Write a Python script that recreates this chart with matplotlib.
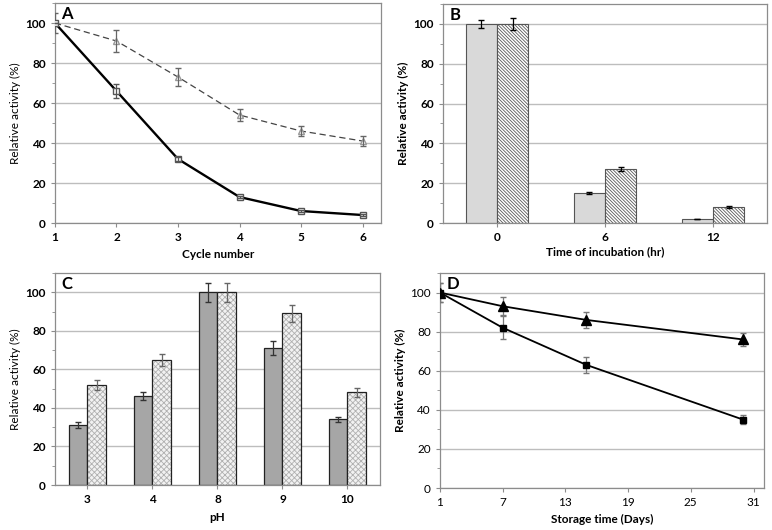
import numpy as np
import matplotlib
matplotlib.use("Agg")
import matplotlib.pyplot as plt
from matplotlib.ticker import MultipleLocator

plt.rcParams["font.family"] = ["Lato", "DejaVu Sans"]
plt.rcParams["hatch.linewidth"] = 0.6

# Panel A: reuse cycles
cycles = [1, 2, 3, 4, 5, 6]
a_solid = [100, 66, 32, 13, 6, 4]
a_solid_err = [0, 3.5, 1, 0.5, 0.5, 0.5]
a_dashed = [100, 91, 73, 54, 46, 41]
a_dashed_err = [5, 5.5, 4.5, 3, 2.5, 2.5]

# Panel B: incubation time
b_labels = ["0", "6", "12"]
b_plain = [100, 15, 2]
b_plain_err = [2, 0.5, 0]
b_hatched = [100, 27, 8]
b_hatched_err = [3, 1, 0.5]

# Panel C: pH
c_labels = ["3", "4", "8", "9", "10"]
c_plain = [31, 46, 100, 71, 34]
c_plain_err = [1.5, 2, 5, 3.5, 1.5]
c_hatched = [52, 65, 100, 89, 48]
c_hatched_err = [2.5, 3, 5, 4.5, 2.5]

# Panel D: storage
days = [1, 7, 15, 30]
d_tri = [100, 93, 86, 76]
d_tri_err = [5, 4.5, 4, 3.5]
d_sq = [100, 82, 63, 35]
d_sq_err = [5, 6, 4, 2.5]

GRID = "#bdbdbd"
SPINE = "#8c8c8c"
FS = 8.5

fig = plt.figure(figsize=(7.72, 5.3), dpi=100)
axA = fig.add_axes([0.0712, 0.5792, 0.4223, 0.4151])
axB = fig.add_axes([0.5738, 0.5792, 0.4197, 0.4132])
axC = fig.add_axes([0.0712, 0.0849, 0.4210, 0.4000])
axD = fig.add_axes([0.5699, 0.0792, 0.4197, 0.4057])


def style(ax, letter, bold_ticks=True):
    ax.set_ylim(0, 110)
    ax.yaxis.set_major_locator(MultipleLocator(20))
    ax.yaxis.set_minor_locator(MultipleLocator(10))
    ax.set_yticks([0, 20, 40, 60, 80, 100])
    ax.grid(axis="y", color=GRID, linewidth=1.0)
    ax.set_axisbelow(True)
    for s in ax.spines.values():
        s.set_color(SPINE)
        s.set_linewidth(0.9)
    ax.tick_params(axis="both", which="both", color=SPINE, length=3,
                   labelsize=FS)
    ax.tick_params(axis="y", which="minor", length=2)
    if bold_ticks:
        for lab in ax.get_xticklabels() + ax.get_yticklabels():
            lab.set_fontweight("bold")
    ax.text(0.02, 0.985, letter, transform=ax.transAxes, fontsize=12,
            fontweight="bold", va="top", ha="left")


# A
axA.plot(cycles, a_dashed, color="#444444", linestyle=(0, (5, 3)),
         linewidth=0.9, marker="^", markersize=4, markerfacecolor="white",
         markeredgecolor="#999999", zorder=3)
axA.errorbar(cycles, a_dashed, yerr=a_dashed_err, fmt="none",
             ecolor="#666666", elinewidth=0.9, capsize=2.5, zorder=3)
axA.plot(cycles, a_solid, color="black", linewidth=1.7, marker="s",
         markersize=4.5, markerfacecolor="white", markeredgecolor="#555555",
         zorder=4)
axA.errorbar(cycles, a_solid, yerr=a_solid_err, fmt="none",
             ecolor="#555555", elinewidth=0.9, capsize=2.5, zorder=4)
axA.set_xlim(1, 6.3)
axA.set_xticks(cycles)
axA.set_xlabel("Cycle number", fontsize=FS, fontweight="bold", labelpad=4)
axA.set_ylabel("Relative activity (%)", fontsize=FS, labelpad=3)
style(axA, "A")

# B
xb = np.arange(len(b_labels))
w = 0.29
axB.bar(xb - w / 2, b_plain, w, color="#d9d9d9", edgecolor="#555555",
        linewidth=0.8, zorder=2)
axB.bar(xb + w / 2, b_hatched, w, color="white", edgecolor="#5a5a5a",
        hatch="\\" * 10, linewidth=0, zorder=2)
axB.bar(xb + w / 2, b_hatched, w, color="none", edgecolor="#555555",
        linewidth=0.8, zorder=2)
axB.errorbar(xb - w / 2, b_plain, yerr=b_plain_err, fmt="none",
             ecolor="black", elinewidth=0.9, capsize=2.5, zorder=3)
axB.errorbar(xb + w / 2, b_hatched, yerr=b_hatched_err, fmt="none",
             ecolor="black", elinewidth=0.9, capsize=2.5, zorder=3)
axB.set_xlim(-0.5, len(b_labels) - 0.5)
axB.set_xticks(xb)
axB.set_xticklabels(b_labels)
axB.tick_params(axis="x", length=0)
axB.set_xlabel("Time of incubation (hr)", fontsize=FS, fontweight="bold",
               labelpad=2)
axB.set_ylabel("Relative activity (%)", fontsize=FS, fontweight="bold",
               labelpad=3)
style(axB, "B")

# C
xc = np.arange(len(c_labels))
w = 0.28
axC.bar(xc - w / 2, c_plain, w, color="#a6a6a6", edgecolor="#222222",
        linewidth=0.9, zorder=2)
axC.bar(xc + w / 2, c_hatched, w, color="#f2f2f2", edgecolor="#b0b0b0",
        hatch="xxxxxx", linewidth=0, zorder=2)
axC.bar(xc + w / 2, c_hatched, w, color="none", edgecolor="#222222",
        linewidth=0.9, zorder=2)
axC.errorbar(xc - w / 2, c_plain, yerr=c_plain_err, fmt="none",
             ecolor="#333333", elinewidth=0.9, capsize=2.5, zorder=3)
axC.errorbar(xc + w / 2, c_hatched, yerr=c_hatched_err, fmt="none",
             ecolor="#666666", elinewidth=0.9, capsize=2.5, zorder=3)
axC.set_xlim(-0.5, len(c_labels) - 0.5)
axC.set_xticks(xc)
axC.set_xticklabels(c_labels)
axC.tick_params(axis="x", length=0)
axC.set_xlabel("pH", fontsize=FS, fontweight="bold", labelpad=5)
axC.set_ylabel("Relative activity (%)", fontsize=FS, labelpad=3)
style(axC, "C")

# D
axD.errorbar(days, d_tri, yerr=d_tri_err, fmt="none", ecolor="#777777",
             elinewidth=0.9, capsize=2.5, zorder=3)
axD.errorbar(days, d_sq, yerr=d_sq_err, fmt="none", ecolor="#777777",
             elinewidth=0.9, capsize=2.5, zorder=3)
axD.plot(days, d_tri, color="black", linewidth=1.3, marker="^",
         markersize=6.5, zorder=4)
axD.plot(days, d_sq, color="black", linewidth=1.3, marker="s",
         markersize=5, zorder=4)
axD.set_xlim(1, 32)
axD.set_xticks([1, 7, 13, 19, 25, 31])
axD.set_xlabel("Storage time (Days)", fontsize=FS, fontweight="bold",
               labelpad=4)
axD.set_ylabel("Relative activity (%)", fontsize=FS, fontweight="bold",
               labelpad=3)
style(axD, "D", bold_ticks=False)

fig.savefig("out.png", dpi=100)
